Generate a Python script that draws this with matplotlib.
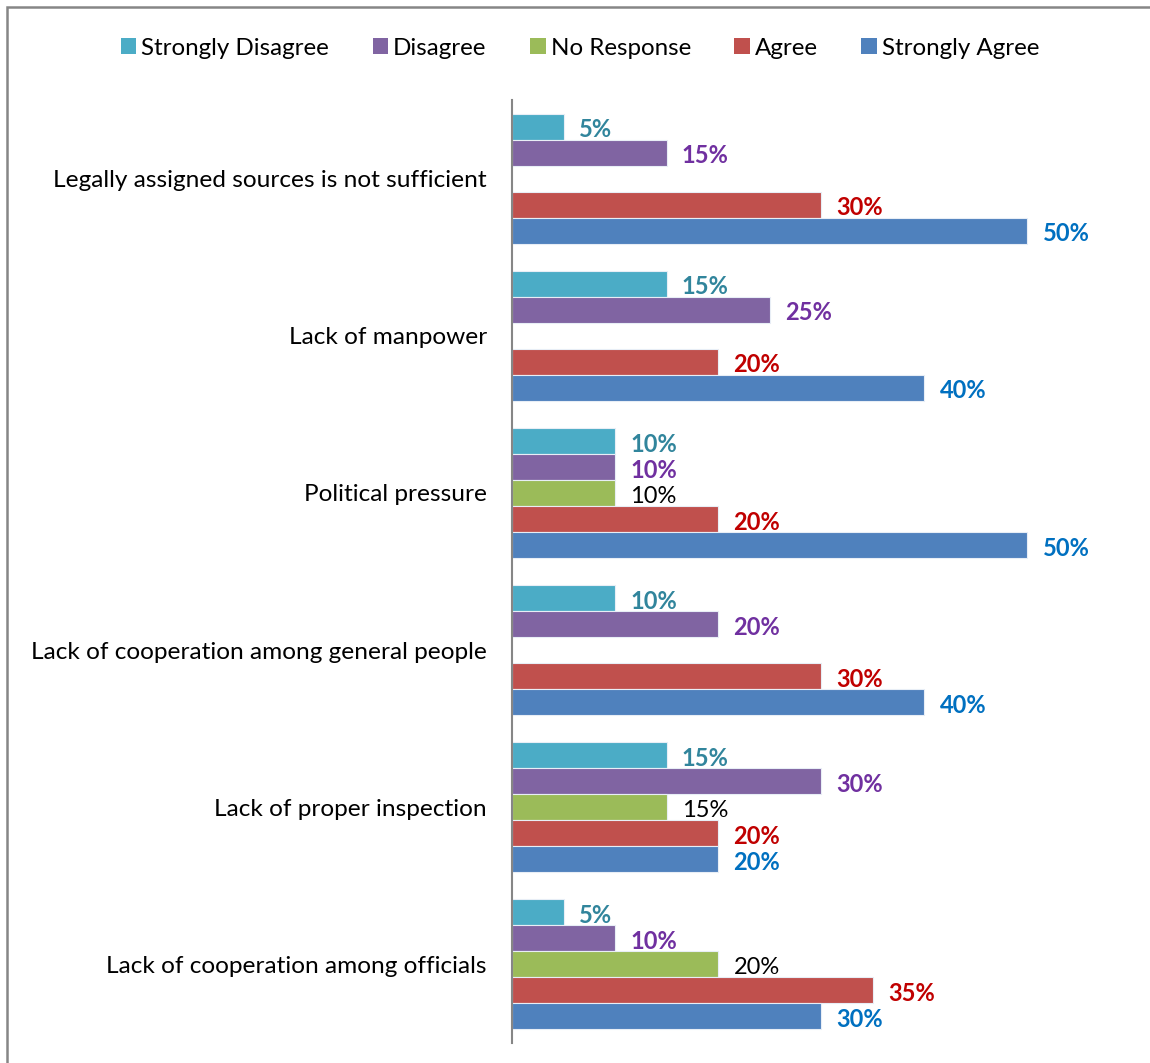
import matplotlib
matplotlib.use("Agg")
import matplotlib.pyplot as plt
from matplotlib.patches import Patch, Rectangle
import numpy as np

plt.rcParams['font.family'] = ['Lato', 'DejaVu Sans']

categories = [
    "Legally assigned sources is not sufficient",
    "Lack of manpower",
    "Political pressure",
    "Lack of cooperation among general people",
    "Lack of proper inspection",
    "Lack of cooperation among officials",
]
series_names = ["Strongly Disagree", "Disagree", "No Response", "Agree", "Strongly Agree"]
strongly_disagree = [5, 15, 10, 10, 15, 5]
disagree = [15, 25, 10, 20, 30, 10]
no_response = [0, 0, 10, 0, 15, 20]
agree = [30, 20, 20, 30, 20, 35]
strongly_agree = [50, 40, 50, 40, 20, 30]

bar_colors = ["#4BACC6", "#8064A2", "#9BBB59", "#C0504D", "#4F81BD"]
label_colors = ["#31859C", "#7030A0", "#000000", "#C00000", "#0070C0"]
label_bold = [True, True, False, True, True]

W, H = 1150, 1063
fig = plt.figure(figsize=(W / 100, H / 100), dpi=100)
ax = fig.add_axes([512 / W, 1 - 1043 / H, (1130 - 512) / W, (1043 - 100) / H])

values = [strongly_disagree, disagree, no_response, agree, strongly_agree]
n_cat = len(categories)
bar_h = 26 / 157
y_center = np.arange(n_cat)

for i, (vals, col) in enumerate(zip(values, bar_colors)):
    ys = y_center + (i - 2) * bar_h
    for y, v in zip(ys, vals):
        if v == 0:
            continue
        ax.barh(y, v, height=bar_h, color=col, edgecolor="#e8eef6", linewidth=0.8)
        ax.text(v + 1.5, y + 0.02, f"{v}%", color=label_colors[i],
                fontsize=17, fontweight="bold" if label_bold[i] else "normal",
                va="center", ha="left")

ax.set_xlim(0, 60)
ax.set_ylim(n_cat - 0.5, -0.5)
ax.set_yticks(y_center)
ax.set_yticklabels(categories, fontsize=17.6)
ax.tick_params(axis="y", length=0, pad=18)
ax.set_xticks([])
for side in ["top", "right", "bottom"]:
    ax.spines[side].set_visible(False)
ax.spines["left"].set_color("#868686")
ax.spines["left"].set_linewidth(1.5)

handles = [Patch(facecolor=c, edgecolor="none") for c in bar_colors]
fig.legend(handles, series_names, loc="center", bbox_to_anchor=(580 / W, 1 - 48 / H),
           ncol=5, frameon=False, fontsize=17.4, handlelength=0.65, handleheight=0.65,
           handletextpad=0.2, columnspacing=1.8)

# outer chart frame (clipped on the right and bottom)
fig.patches.append(Rectangle((7 / W, -0.05), 1.2, 1 - 7 / H + 0.05,
                             transform=fig.transFigure, fill=False,
                             edgecolor="#868686", linewidth=1.8))

fig.savefig("out.png", dpi=100)
